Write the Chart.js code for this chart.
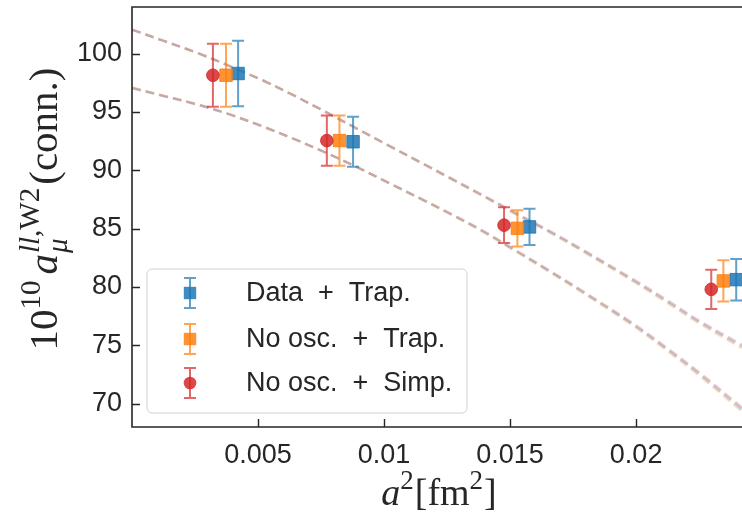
<!DOCTYPE html>
<html><head><meta charset="utf-8">
<script src="https://cdn.jsdelivr.net/npm/chart.js@4/dist/chart.umd.min.js"></script>
<style>html,body{margin:0;padding:0;background:#fff;overflow:hidden}#wrap{width:742px;height:517px;position:relative}</style>
</head><body><div id="wrap"><canvas id="c" width="742" height="517"></canvas></div>
<script>
// ---------- data ----------
const seriesNames = ['Data + Trap.', 'No osc. + Trap.', 'No osc. + Simp.'];
const dataTrapX   = [0.00421, 0.00877, 0.01577, 0.02397];
const dataTrapY   = [98.3, 92.45, 85.15, 80.63];
const dataTrapErr = [2.8, 2.15, 1.55, 1.78];
const noOscTrapX   = [0.00373, 0.00823, 0.01529, 0.02346];
const noOscTrapY   = [98.15, 92.55, 85.03, 80.52];
const noOscTrapErr = [2.7, 2.15, 1.55, 1.77];
const noOscSimpX   = [0.00321, 0.00773, 0.01476, 0.02298];
const noOscSimpY   = [98.15, 92.55, 85.3, 79.8];
const noOscSimpErr = [2.7, 2.15, 1.53, 1.68];

const bandX = [0, 0.0012, 0.0026, 0.0039, 0.0052, 0.0063, 0.0076, 0.0089, 0.0102, 0.0116, 0.0126, 0.0139, 0.0153, 0.0166, 0.0179, 0.0199, 0.0212, 0.0225, 0.0242];
const upperBlue   = [102.06, 101.14, 100.06, 98.91, 97.7, 96.55, 95.1, 93.6, 92.1, 90.5, 89.35, 87.85, 86.2, 84.7, 83.1, 80.55, 78.8, 77.0, 74.9];
const upperOrange = [102.06, 101.14, 100.06, 98.91, 97.7, 96.55, 95.1, 93.6, 92.08, 90.47, 89.31, 87.8, 86.14, 84.63, 83.02, 80.45, 78.68, 76.88, 74.75];
const upperRed    = [102.06, 101.14, 100.06, 98.91, 97.7, 96.55, 95.1, 93.6, 92.12, 90.53, 89.39, 87.9, 86.26, 84.77, 83.18, 80.65, 78.92, 77.12, 75.05];
const lowerBlue   = [97.06, 96.4, 95.63, 94.77, 93.75, 92.8, 91.6, 90.3, 88.9, 87.4, 86.3, 84.8, 83.0, 81.3, 79.55, 76.75, 74.7, 72.55, 69.5];
const lowerOrange = [97.1, 96.44, 95.66, 94.79, 93.75, 92.8, 91.6, 90.3, 88.88, 87.37, 86.26, 84.75, 82.94, 81.23, 79.47, 76.65, 74.58, 72.41, 69.33];
const lowerRed    = [97.06, 96.4, 95.63, 94.77, 93.75, 92.8, 91.6, 90.3, 88.92, 87.43, 86.34, 84.85, 83.06, 81.37, 79.63, 76.85, 74.82, 72.69, 69.67];

const xTicks = [0.005, 0.01, 0.015, 0.02];
const xTickLabels = ['0.005', '0.01', '0.015', '0.02'];
const yTicks = [70, 75, 80, 85, 90, 95, 100];
const yTickLabels = ['70', '75', '80', '85', '90', '95', '100'];

// ---------- styling ----------
const C_BLUE = [31, 119, 180], C_ORANGE = [255, 127, 14], C_RED = [214, 39, 40];
const rgba = (c, a) => `rgba(${c[0]},${c[1]},${c[2]},${a})`;
const SANS = '"Liberation Sans", Arial, sans-serif';
const SERIF = '"Liberation Serif", "DejaVu Serif", serif';
const INK = '#262626';

const pts = (xs, ys) => xs.map((x, i) => ({x, y: ys[i]}));

function curve(ys, col) {
  return {
    type: 'line', data: pts(bandX, ys), showLine: true, pointRadius: 0,
    borderColor: rgba(col, 0.24), borderWidth: 2.5, borderDash: [9, 5],
    tension: 0.35, fill: false, order: 10
  };
}
function markers(xs, ys, errs, col, style, r, order, label) {
  return {
    label, data: pts(xs, ys), errs, col, showLine: false,
    pointStyle: style, pointRadius: r, pointHoverRadius: r,
    backgroundColor: rgba(col, 0.85), borderColor: rgba(col, 0.85), borderWidth: 1,
    order
  };
}

const datasets = [
  curve(upperBlue, C_BLUE), curve(upperOrange, C_ORANGE), curve(upperRed, C_RED),
  curve(lowerBlue, C_BLUE), curve(lowerOrange, C_ORANGE), curve(lowerRed, C_RED),
  markers(dataTrapX, dataTrapY, dataTrapErr, C_BLUE, 'rect', 8.8, 3, seriesNames[0]),
  markers(noOscTrapX, noOscTrapY, noOscTrapErr, C_ORANGE, 'rect', 8.8, 2, seriesNames[1]),
  markers(noOscSimpX, noOscSimpY, noOscSimpErr, C_RED, 'circle', 6.3, 1, seriesNames[2])
];

function drawErrBar(ctx, x, yTop, yBot, col) {
  ctx.save();
  ctx.strokeStyle = rgba(col, 0.7);
  ctx.lineWidth = 2;
  ctx.beginPath();
  ctx.moveTo(x, yTop); ctx.lineTo(x, yBot);
  ctx.moveTo(x - 6, yTop); ctx.lineTo(x + 6, yTop);
  ctx.moveTo(x - 6, yBot); ctx.lineTo(x + 6, yBot);
  ctx.stroke();
  ctx.restore();
}

// rich text: segments {t, it, sc, dy, noAdv, gap}
function richWidth(ctx, segs, F) {
  let w = 0;
  for (const s of segs) {
    ctx.font = `${s.it ? 'italic ' : ''}${Math.round(F * (s.sc || 1))}px ${SERIF}`;
    if (!s.noAdv) w += ctx.measureText(s.t).width + (s.gap || 0);
  }
  return w;
}
function drawRich(ctx, segs, F, x0, y0) {
  let x = x0;
  for (const s of segs) {
    ctx.font = `${s.it ? 'italic ' : ''}${Math.round(F * (s.sc || 1))}px ${SERIF}`;
    ctx.fillText(s.t, x, y0 + (s.dy || 0) * F);
    if (!s.noAdv) x += ctx.measureText(s.t).width + (s.gap || 0);
  }
}
// legend label: split around " + " so the plus gets math-style spacing
function drawLegendLabel(ctx, label, x, y) {
  const parts = label.split(' + ');
  ctx.font = `27px ${SANS}`;
  let cx = x;
  ctx.fillText(parts[0], cx, y); cx += ctx.measureText(parts[0]).width + 15;
  ctx.fillText('+', cx, y); cx += ctx.measureText('+').width + 15;
  ctx.fillText(parts[1], cx, y);
}

const decor = {
  id: 'decor',
  beforeDatasetDraw(chart, args) {
    const ds = chart.data.datasets[args.index];
    if (!ds.errs) return;
    const ys = chart.scales.y, ctx = chart.ctx;
    args.meta.data.forEach((pt, i) => {
      const v = ds.data[i].y, e = ds.errs[i];
      drawErrBar(ctx, pt.x, ys.getPixelForValue(v + e), ys.getPixelForValue(v - e), ds.col);
    });
  },
  afterDraw(chart) {
    const ctx = chart.ctx, a = chart.chartArea, xs = chart.scales.x, ys = chart.scales.y;
    ctx.save();
    // spines
    ctx.strokeStyle = INK; ctx.lineWidth = 1.6;
    ctx.beginPath();
    ctx.moveTo(a.right + 2, a.top); ctx.lineTo(a.left, a.top);
    ctx.lineTo(a.left, a.bottom); ctx.lineTo(a.right + 2, a.bottom);
    ctx.stroke();
    // inward ticks
    ctx.lineWidth = 1.4;
    ctx.beginPath();
    xTicks.forEach(v => { const p = Math.round(xs.getPixelForValue(v)) + 0.5; ctx.moveTo(p, a.bottom); ctx.lineTo(p, a.bottom - 8); });
    yTicks.forEach(v => { const p = Math.round(ys.getPixelForValue(v)) + 0.5; ctx.moveTo(a.left, p); ctx.lineTo(a.left + 8, p); });
    ctx.stroke();

    // axis titles
    ctx.fillStyle = INK; ctx.textBaseline = 'alphabetic'; ctx.textAlign = 'left';
    const xt = [
      {t: 'a', it: true}, {t: '2', sc: 0.7, dy: -0.42, gap: 1}, {t: '[fm'}, {t: '2', sc: 0.7, dy: -0.42, gap: 1}, {t: ']'}
    ];
    const wx = richWidth(ctx, xt, 38);
    drawRich(ctx, xt, 38, 439 - wx / 2, 505);

    const FY = 41;
    const yt = [
      {t: '10'}, {t: '10', sc: 0.7, dy: -0.42, gap: 6}, {t: 'a', it: true, gap: 1},
      {t: '\u03bc', it: true, sc: 0.7, dy: 0.25, noAdv: true},
      {t: 'll', it: true, sc: 0.7, dy: -0.45}, {t: ',W2', sc: 0.7, dy: -0.45, gap: 3},
      {t: '(conn.)'}
    ];
    const wy = richWidth(ctx, yt, FY);
    ctx.save();
    ctx.translate(57, 209);
    ctx.rotate(-Math.PI / 2);
    drawRich(ctx, yt, FY, -wy / 2, 0);
    ctx.restore();

    // legend
    const bx = 147, by = 269, bw = 320, bh = 144, r = 5;
    ctx.beginPath();
    ctx.moveTo(bx + r, by); ctx.arcTo(bx + bw, by, bx + bw, by + bh, r);
    ctx.arcTo(bx + bw, by + bh, bx, by + bh, r); ctx.arcTo(bx, by + bh, bx, by, r);
    ctx.arcTo(bx, by, bx + bw, by, r); ctx.closePath();
    ctx.fillStyle = 'rgba(255,255,255,0.85)'; ctx.fill();
    ctx.strokeStyle = '#d0d0d0'; ctx.lineWidth = 1; ctx.stroke();
    const rows = [293, 339, 383];
    const mk = chart.data.datasets.filter(d => d.errs);
    mk.forEach((d, i) => {
      const y = rows[i];
      drawErrBar(ctx, 190, y - 15, y + 15, d.col);
      ctx.fillStyle = rgba(d.col, 0.85);
      ctx.beginPath();
      if (d.pointStyle === 'circle') ctx.arc(190, y, 6.3, 0, Math.PI * 2);
      else ctx.rect(190 - 6.2, y - 6.2, 12.4, 12.4);
      ctx.fill();
      ctx.fillStyle = INK; ctx.textBaseline = 'middle';
      drawLegendLabel(ctx, d.label, 246, y + 1);
    });
    ctx.restore();
  }
};

new Chart(document.getElementById('c'), {
  type: 'scatter',
  data: {datasets},
  options: {
    responsive: false, animation: false, devicePixelRatio: 1,
    layout: {autoPadding: false, padding: {top: 7, right: 0, left: 0, bottom: 0}},
    plugins: {legend: {display: false}, tooltip: {enabled: false}},
    scales: {
      x: {
        type: 'linear', min: 0, max: 0.0242,
        afterBuildTicks: s => { s.ticks = xTicks.map(v => ({value: v})); },
        afterFit: s => { s.height = 90; s.paddingLeft = 0; s.paddingRight = 0; },
        grid: {display: false, drawTicks: false}, border: {display: false},
        ticks: {font: {family: SANS, size: 27}, color: INK, padding: 12, maxRotation: 0,
                callback: v => xTickLabels[xTicks.indexOf(v)] ?? ''}
      },
      y: {
        type: 'linear', min: 68, max: 104,
        afterBuildTicks: s => { s.ticks = yTicks.map(v => ({value: v})); },
        afterFit: s => { s.width = 132; s.paddingTop = 0; s.paddingBottom = 0; },
        grid: {display: false, drawTicks: false}, border: {display: false},
        ticks: {font: {family: SANS, size: 27}, color: INK, padding: 10,
                callback: v => yTickLabels[yTicks.indexOf(v)] ?? ''}
      }
    }
  },
  plugins: [decor]
});
</script></body></html>
